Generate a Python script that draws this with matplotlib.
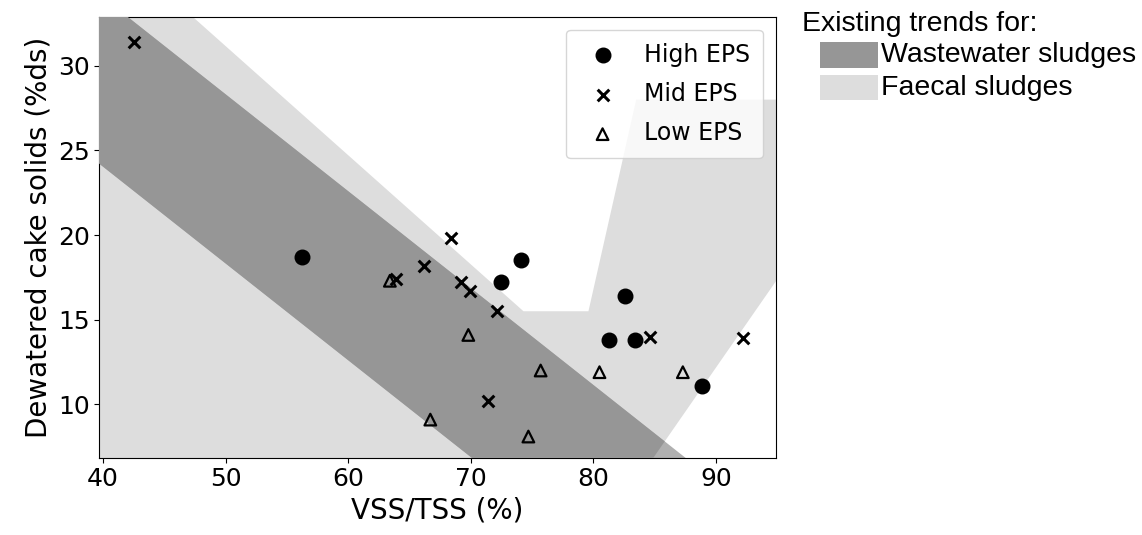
import matplotlib.pyplot as plt
from matplotlib.patches import Polygon, Rectangle

# VSS/TSS (%) vs dewatered cake solids (%ds) for each EPS group
high_x = [56.2, 72.5, 74.1, 82.6, 81.3, 83.4, 88.9]
high_y = [18.7, 17.2, 18.5, 16.4, 13.8, 13.8, 11.1]

mid_x = [42.5, 68.4, 66.2, 63.9, 69.2, 69.9, 72.1, 71.4, 84.6, 92.2]
mid_y = [31.4, 19.8, 18.2, 17.4, 17.2, 16.7, 15.5, 10.2, 14.0, 13.9]

low_x = [63.4, 69.8, 66.7, 75.7, 74.7, 80.5, 87.3]
low_y = [17.3, 14.1, 9.1, 12.0, 8.1, 11.9, 11.9]

# existing trend envelopes (data coordinates)
faecal_x = [30.0, 45.6, 74.3, 79.6, 83.5, 100.0, 100.0, 84.9, 30.0]
faecal_y = [34.0, 34.0, 15.5, 15.5, 28.0, 28.0, 22.6, 6.85, 0.0]

waste_x = [35.0, 95.0, 95.0, 35.0]
waste_y = [36.9, 2.56, -7.4, 26.9]

fig = plt.figure(figsize=(11.42, 5.35), dpi=100)
ax = fig.add_axes([0.087, 0.1445, 0.5925, 0.8243])

faecal = Polygon(list(zip(faecal_x, faecal_y)), closed=True, facecolor='#dddddd',
                 edgecolor='none', zorder=1)
ax.add_patch(faecal)
waste = Polygon(list(zip(waste_x, waste_y)), closed=True, facecolor='#b0b0b0',
                edgecolor='none', zorder=2)
ax.add_patch(waste)
# where the two envelopes overlap the band is darker
overlap = Polygon(list(zip(waste_x, waste_y)), closed=True, facecolor='#969696',
                  edgecolor='none', zorder=3)
ax.add_patch(overlap)
overlap.set_clip_path(faecal)

ax.scatter(high_x, high_y, s=110, marker='o', color='black', zorder=5, label='High EPS')
ax.scatter(mid_x, mid_y, s=70, marker='x', color='black', linewidths=2.2, zorder=5,
           label='Mid EPS')
ax.scatter(low_x, low_y, s=70, marker='^', facecolors='none', edgecolors='black',
           linewidths=1.6, zorder=5, label='Low EPS')

ax.set_xlim(39.7, 94.9)
ax.set_ylim(6.85, 32.9)
ax.set_xticks([40, 50, 60, 70, 80, 90])
ax.set_yticks([10, 15, 20, 25, 30])
ax.tick_params(labelsize=18)
ax.set_xlabel('VSS/TSS (%)', fontsize=20)
ax.set_ylabel('Dewatered cake solids (%ds)', fontsize=20)

ax.legend(loc='upper right', fontsize=17, borderpad=0.55, labelspacing=0.65,
          handletextpad=0.75, borderaxespad=0.55)

# legend for the trend envelopes, outside the axes
sans = ['Liberation Sans', 'Arial', 'DejaVu Sans']
fig.text(802 / 1142, 1 - 24 / 535, 'Existing trends for:', fontsize=20.5, family=sans,
         va='center', ha='left')
fig.patches.append(Rectangle((820 / 1142, 1 - 68 / 535), 58 / 1142, 26 / 535,
                             transform=fig.transFigure, facecolor='#969696',
                             edgecolor='none'))
fig.patches.append(Rectangle((820 / 1142, 1 - 100 / 535), 58 / 1142, 25 / 535,
                             transform=fig.transFigure, facecolor='#dddddd',
                             edgecolor='none'))
fig.text(881 / 1142, 1 - 55 / 535, 'Wastewater sludges', fontsize=20.5, family=sans,
         va='center', ha='left')
fig.text(881 / 1142, 1 - 88 / 535, 'Faecal sludges', fontsize=20.5, family=sans,
         va='center', ha='left')

fig.savefig('out.png', dpi=100)
